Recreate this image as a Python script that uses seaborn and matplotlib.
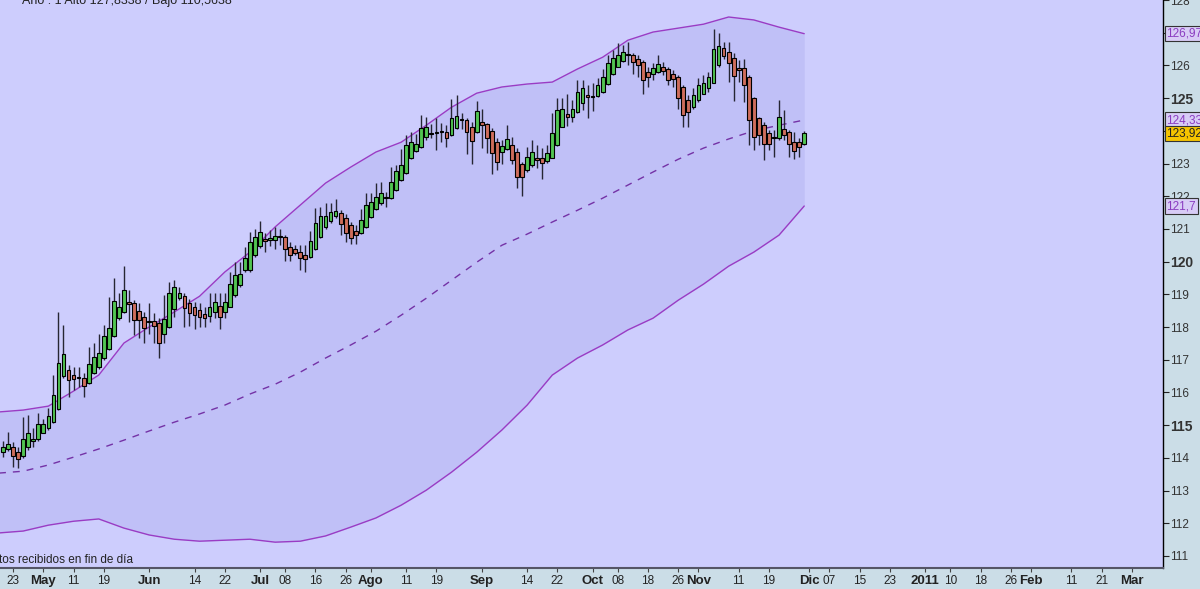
import numpy as np
import pandas as pd
import matplotlib
matplotlib.use('Agg')
import matplotlib.pyplot as plt
import matplotlib.transforms as mtransforms
import seaborn as sns

# daily candles, first session 21 Apr 2010
opens = [114.17, 114.26, 114.32, 114.19, 114.05, 114.34, 114.52, 114.56, 114.77, 114.90,
         115.10, 115.48, 116.50, 116.68, 116.53, 116.48, 116.45, 116.30, 116.60, 116.78,
         117.04, 117.34, 117.74, 118.26, 118.45, 118.77, 118.74, 118.49, 118.31, 118.16,
         118.18, 118.11, 117.78, 118.01, 118.54, 118.90, 118.95, 118.74, 118.62, 118.52,
         118.41, 118.33, 118.47, 118.64, 118.47, 118.62, 118.98, 119.28, 119.74, 119.74,
         120.20, 120.47, 120.68, 120.66, 120.66, 120.78, 120.76, 120.45, 120.38, 120.30,
         120.20, 120.13, 120.40, 120.76, 121.05, 121.25, 121.40, 121.49, 121.32, 121.12,
         120.93, 120.86, 121.07, 121.37, 121.61, 121.78, 121.98, 121.93, 122.19, 122.49,
         122.70, 123.16, 123.38, 123.51, 123.82, 123.94, 123.92, 123.99, 123.97, 123.87,
         124.09, 124.35, 124.33, 124.12, 123.95, 124.26, 124.20, 123.99, 123.65, 123.34,
         123.44, 123.56, 123.36, 123.00, 122.80, 122.95, 123.18, 123.16, 123.07, 123.18,
         123.56, 124.12, 124.50, 124.43, 124.58, 124.86, 125.09, 125.06, 125.06, 125.19,
         125.43, 125.75, 125.96, 126.14, 126.35, 126.32, 126.21, 126.11, 125.81, 125.75,
         125.80, 125.96, 125.88, 125.75, 125.63, 125.35, 124.94, 124.73, 124.94, 125.14,
         125.30, 125.47, 126.01, 126.52, 126.42, 126.24, 125.91, 125.91, 125.63, 124.99,
         124.38, 124.17, 123.92, 123.77, 123.77, 124.07, 123.97, 123.66, 123.66, 123.59]
highs = [114.52, 114.80, 114.49, 114.34, 115.26, 115.31, 114.90, 115.36, 115.20, 115.51,
         116.53, 118.47, 118.06, 116.84, 116.78, 116.78, 116.58, 117.40, 117.50, 117.80,
         118.06, 118.93, 119.49, 119.03, 119.86, 119.13, 118.82, 118.72, 118.47, 118.72,
         118.42, 118.26, 118.98, 119.38, 119.43, 119.23, 119.03, 118.87, 118.77, 118.72,
         118.62, 119.05, 119.05, 119.03, 119.03, 119.69, 120.00, 120.00, 120.45, 120.91,
         121.01, 121.25, 120.86, 120.96, 121.05, 121.01, 120.81, 120.61, 120.50, 120.50,
         120.50, 120.94, 121.63, 121.68, 121.78, 121.78, 121.91, 121.58, 121.47, 121.22,
         121.12, 121.61, 122.09, 122.09, 122.39, 122.44, 122.14, 122.90, 122.95, 123.44,
         123.87, 123.97, 123.89, 124.48, 124.43, 124.20, 124.38, 124.23, 124.18, 124.97,
         125.11, 124.53, 124.38, 124.28, 124.91, 124.68, 124.23, 124.09, 123.77, 123.72,
         124.17, 123.82, 123.46, 123.05, 123.51, 123.72, 123.56, 123.46, 123.56, 124.53,
         124.99, 124.99, 125.14, 124.94, 125.55, 125.55, 125.40, 125.45, 125.60, 125.88,
         126.32, 126.47, 126.67, 126.62, 126.72, 126.37, 126.32, 126.16, 125.96, 126.06,
         126.31, 126.11, 125.96, 125.86, 125.70, 125.40, 125.09, 125.30, 125.60, 125.70,
         125.80, 127.10, 126.98, 126.72, 126.72, 126.37, 126.16, 126.21, 125.70, 125.04,
         124.43, 124.28, 124.02, 124.02, 124.94, 124.65, 124.02, 123.97, 123.77, 124.00]
lows = [114.01, 114.22, 113.73, 113.68, 113.98, 114.24, 114.34, 114.52, 114.75, 114.85,
        115.05, 115.46, 116.43, 115.87, 116.07, 116.17, 115.87, 116.27, 116.56, 116.73,
        116.99, 117.29, 117.70, 118.21, 118.42, 118.16, 117.75, 117.65, 117.50, 117.80,
        117.50, 117.04, 117.50, 117.96, 118.31, 118.82, 118.01, 118.03, 117.93, 118.01,
        117.99, 118.16, 118.26, 117.93, 118.26, 118.60, 118.92, 119.23, 119.69, 119.69,
        120.15, 120.43, 120.30, 120.47, 120.40, 120.50, 120.03, 120.03, 120.20, 119.74,
        119.69, 120.10, 120.35, 120.71, 121.01, 121.19, 121.32, 120.81, 120.61, 120.53,
        120.53, 120.83, 121.04, 121.32, 121.58, 121.73, 121.68, 121.91, 122.16, 122.46,
        122.67, 123.14, 123.36, 123.48, 123.72, 123.77, 123.41, 123.67, 123.51, 123.85,
        124.07, 124.07, 123.28, 123.00, 123.92, 123.46, 123.31, 122.67, 122.80, 123.00,
        123.41, 123.00, 122.24, 122.00, 122.75, 122.90, 122.85, 122.54, 123.02, 123.16,
        123.53, 124.12, 124.14, 124.28, 124.53, 124.63, 124.38, 124.60, 125.04, 125.16,
        125.40, 125.70, 125.94, 126.11, 126.01, 125.75, 125.65, 125.14, 125.35, 125.55,
        125.77, 125.70, 125.40, 125.35, 124.68, 124.12, 124.12, 124.68, 124.89, 125.12,
        125.19, 125.45, 125.96, 126.21, 125.50, 124.92, 125.50, 124.89, 123.56, 123.41,
        123.56, 123.10, 123.41, 123.20, 123.72, 123.72, 123.20, 123.15, 123.20, 123.56]
closes = [114.32, 114.41, 114.05, 113.95, 114.56, 114.77, 114.59, 115.03, 115.03, 115.29,
          115.91, 116.89, 117.16, 116.38, 116.40, 116.45, 116.19, 116.86, 117.09, 117.21,
          117.72, 117.96, 118.80, 118.60, 119.13, 118.70, 118.21, 118.21, 117.96, 118.18,
          118.03, 117.50, 118.23, 119.03, 119.23, 119.03, 118.57, 118.43, 118.38, 118.31,
          118.26, 118.62, 118.77, 118.31, 118.77, 119.33, 119.59, 119.61, 120.10, 120.61,
          120.76, 120.91, 120.62, 120.71, 120.79, 120.74, 120.40, 120.20, 120.27, 120.10,
          120.07, 120.64, 121.17, 121.39, 121.39, 121.52, 121.55, 121.14, 120.86, 120.73,
          120.81, 121.27, 121.73, 121.83, 121.98, 122.09, 121.93, 122.44, 122.77, 122.95,
          123.58, 123.65, 123.61, 124.09, 124.12, 123.91, 123.97, 123.95, 123.77, 124.38,
          124.46, 124.32, 123.97, 123.69, 124.60, 124.18, 123.77, 123.31, 123.05, 123.53,
          123.74, 123.12, 122.59, 122.59, 123.21, 123.36, 123.10, 123.03, 123.31, 123.94,
          124.65, 124.68, 124.43, 124.68, 125.19, 125.30, 125.04, 125.04, 125.40, 125.65,
          126.06, 126.24, 126.32, 126.42, 126.32, 126.11, 126.01, 125.55, 125.65, 125.91,
          126.04, 125.84, 125.55, 125.57, 124.99, 124.48, 124.58, 125.09, 125.40, 125.47,
          125.63, 126.49, 126.59, 126.28, 126.06, 125.67, 125.86, 125.40, 124.33, 123.82,
          123.87, 123.61, 123.61, 123.80, 124.41, 123.87, 123.61, 123.38, 123.51, 123.92]

# channel, sampled every 5 sessions
band_pos = list(range(-1, 160, 5))
upper = [115.40, 115.46, 115.58, 116.04, 116.53, 117.51, 118.00, 118.46, 118.94, 119.68, 120.29,
         121.06, 121.73, 122.40, 122.89, 123.35, 123.65, 124.17, 124.72, 125.15, 125.34, 125.43,
         125.49, 125.89, 126.25, 126.77, 127.02, 127.14, 127.26, 127.48, 127.39, 127.17, 126.97]
middle = [113.53, 113.59, 113.78, 114.02, 114.27, 114.54, 114.82, 115.09, 115.34, 115.61, 115.95,
          116.25, 116.62, 117.05, 117.45, 117.87, 118.36, 118.88, 119.43, 119.98, 120.50, 120.84,
          121.21, 121.57, 121.94, 122.34, 122.74, 123.13, 123.47, 123.75, 124.00, 124.17, 124.33]
lower = [111.70, 111.76, 111.94, 112.06, 112.13, 111.85, 111.64, 111.51, 111.45, 111.48, 111.51,
         111.42, 111.45, 111.61, 111.88, 112.16, 112.55, 113.01, 113.56, 114.17, 114.85, 115.61,
         116.53, 117.05, 117.45, 117.91, 118.27, 118.82, 119.31, 119.86, 120.29, 120.81, 121.70]

tick_dates = ['2010-04-23', '2010-05-03', '2010-05-11', '2010-05-19', '2010-06-01', '2010-06-14',
              '2010-06-22', '2010-07-01', '2010-07-08', '2010-07-16', '2010-07-26', '2010-08-02',
              '2010-08-11', '2010-08-19', '2010-09-01', '2010-09-14', '2010-09-22', '2010-10-01',
              '2010-10-08', '2010-10-18', '2010-10-26', '2010-11-01', '2010-11-11', '2010-11-19',
              '2010-12-01', '2010-12-07', '2010-12-15', '2010-12-23', '2011-01-03', '2011-01-10',
              '2011-01-18', '2011-01-26', '2011-02-01', '2011-02-11', '2011-02-21', '2011-03-01']
tick_labels = ['23', 'May', '11', '19', 'Jun', '14', '22', 'Jul', '08', '16', '26', 'Ago',
               '11', '19', 'Sep', '14', '22', 'Oct', '08', '18', '26', 'Nov', '11', '19',
               'Dic', '07', '15', '23', '2011', '10', '18', '26', 'Feb', '11', '21', 'Mar']
bold_ticks = ['May', 'Jun', 'Jul', 'Ago', 'Sep', 'Oct', 'Nov', 'Dic', '2011', 'Feb', 'Mar']

y_ticks = list(range(111, 129))
y_bold = [115, 120, 125]
y_hidden = [124, 127]   # covered by the value tags

tag_values = [126.97, 124.33, 123.921, 121.7]
tag_texts = ['126,97', '124,33', '123,921', '121,7']

sns.set_theme(style='white')
plt.rcParams['font.family'] = ['Liberation Sans', 'DejaVu Sans']

panel = '#cbdde7'
fig = plt.figure(figsize=(12, 5.89), dpi=100, facecolor=panel)
ax = fig.add_axes([0, 21 / 589, 1163 / 1200, 568 / 589])
ax.set_facecolor('#cdcdfd')

days = pd.bdate_range('2010-04-21', '2011-03-15')
xpos = np.arange(len(closes))

# channel fill + lines
ax.fill_between(band_pos, lower, upper, color='#c0c0f7', lw=0, zorder=1)
sns.lineplot(x=band_pos, y=upper, ax=ax, color='#9a3cc4', linewidth=1, zorder=2)
sns.lineplot(x=band_pos, y=lower, ax=ax, color='#9a3cc4', linewidth=1, zorder=2)
sns.lineplot(x=band_pos, y=middle, ax=ax, color='#7432a6', linewidth=1,
             linestyle=(0, (5, 5)), zorder=2)

# candles
o = np.array(opens)
c = np.array(closes)
ax.vlines(xpos, lows, highs, color='#262633', linewidth=1, zorder=3)
body_low = np.minimum(o, c)
body_h = np.maximum(np.abs(c - o), 0.03)
cols = np.where(c >= o, '#52c552', '#cf6d5b')
ax.bar(xpos, body_h, bottom=body_low, width=0.74, color=cols,
       edgecolor='black', linewidth=0.8, zorder=4)

ax.set_xlim(-0.6, 230.2)
ax.set_ylim(110.63, 128.0)

# x axis
tpos = days.get_indexer(pd.to_datetime(tick_dates))
ax.set_xticks(tpos)
ax.set_xticklabels(tick_labels)
for lab in ax.get_xticklabels():
    if lab.get_text() in bold_ticks:
        lab.set_fontweight('bold')
        lab.set_fontsize(9.5)
    else:
        lab.set_fontsize(8.5)
ax.tick_params(axis='x', direction='out', length=3, width=0.8, color='#444444',
               pad=2, labelcolor='#222222', bottom=True)

# y axis on the right
ax.yaxis.tick_right()
ax.set_yticks(y_ticks)
ax.set_yticklabels(['' if v in y_hidden else str(v) for v in y_ticks])
for lab, v in zip(ax.get_yticklabels(), y_ticks):
    if v in y_bold:
        lab.set_fontweight('bold')
        lab.set_fontsize(10)
    else:
        lab.set_fontsize(8.5)
ax.tick_params(axis='y', direction='out', length=4, width=0.8, color='#222222',
               pad=1, labelcolor='#333333', right=True, left=False)

for side in ['top', 'left']:
    ax.spines[side].set_visible(False)
ax.spines['right'].set_color('black')
ax.spines['right'].set_linewidth(1)
ax.spines['bottom'].set_color('#555566')
ax.spines['bottom'].set_linewidth(1.5)

# value tags on the price scale
trans = mtransforms.blended_transform_factory(ax.transAxes, ax.transData)
for v, t in zip(tag_values, tag_texts):
    if t == '123,921':
        box = dict(boxstyle='square,pad=0.15', fc='#f5c400', ec='#333333', lw=0.8)
        tc = '#222222'
    else:
        box = dict(boxstyle='square,pad=0.15', fc='#d8ccf6', ec='#333333', lw=0.8)
        tc = '#8a3cc0'
    ax.text(1.003, v, t, transform=trans, ha='left', va='center', fontsize=8.5,
            color=tc, bbox=box, zorder=10, clip_on=False)

fig.text(0.018, 0.998, 'Año : 1 Alto 127,8338 / Bajo 110,5638', fontsize=9,
         color='#222222', ha='left', va='center')
ax.text(-0.014, 0.004, 'Datos recibidos en fin de día', transform=ax.transAxes,
        fontsize=8.5, color='#222222', ha='left', va='bottom')

fig.savefig('out.png', dpi=100, facecolor=panel)
